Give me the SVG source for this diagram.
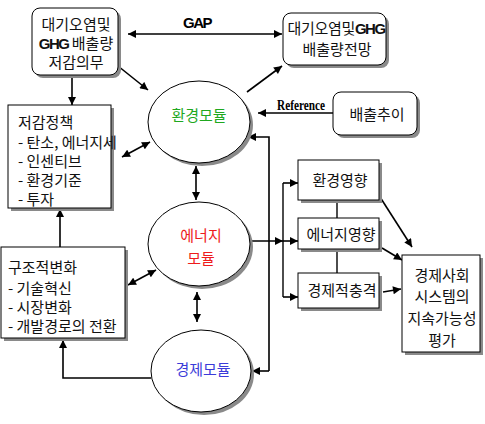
<svg xmlns="http://www.w3.org/2000/svg" width="485" height="424" viewBox="0 0 485 424">
<defs>
<marker id="ah" viewBox="0 0 10 10" refX="10" refY="5" markerWidth="9" markerHeight="8" markerUnits="userSpaceOnUse" orient="auto-start-reverse">
<path d="M0,0 L10,5 L0,10 z" fill="#000"/>
</marker>
</defs>
<style>
.box{fill:#fff;stroke:#000;stroke-width:1}
.sh{fill:#8a8a8a;stroke:none}
.kt{font-family:"Noto Sans CJK KR","Liberation Sans",sans-serif;font-size:15px;fill:#111}
.c{text-anchor:middle}
.ln{fill:none;stroke:#000;stroke-width:1.4}
.ar{fill:none;stroke:#000;stroke-width:1.6;marker-end:url(#ah)}
.da{fill:none;stroke:#000;stroke-width:1.6;marker-end:url(#ah);marker-start:url(#ah)}
.circ{fill:#fff;stroke:#000;stroke-width:1}
.en{font-family:"Liberation Sans",sans-serif;font-weight:bold;letter-spacing:-1.5px}
</style>
<rect width="485" height="424" fill="#fff"/>

<g id="connectors">
<line class="da" x1="128" y1="34" x2="282" y2="34"/>
<text x="197" y="28" class="c" font-family="Liberation Sans, sans-serif" font-weight="bold" font-size="15" letter-spacing="-1.5">GAP</text>
<line class="ar" x1="118" y1="66" x2="148" y2="90"/>
<line class="ar" x1="247" y1="92" x2="282" y2="66"/>
<line class="ar" x1="72" y1="76" x2="72" y2="105"/>
<line class="ar" x1="60" y1="247" x2="60" y2="209"/>
<line class="da" x1="122" y1="157" x2="150" y2="142"/>
<line class="da" x1="128" y1="285" x2="156" y2="270"/>
<polyline class="ar" points="151,378 63,378 63,340"/>
<line class="da" x1="196" y1="166" x2="196" y2="200"/>
<line class="da" x1="197" y1="292" x2="197" y2="322"/>
<line class="ar" x1="334" y1="113" x2="258" y2="113"/>
<text x="277" y="110" font-family="Liberation Serif, serif" font-weight="bold" font-size="15" textLength="48" lengthAdjust="spacingAndGlyphs">Reference</text>
<polyline class="ar" points="269,371 269,137 248,137"/>
<line class="ar" x1="269" y1="371" x2="252" y2="371"/>
<line class="ar" x1="250" y1="241" x2="283" y2="241"/>
<line class="ln" x1="283" y1="183" x2="283" y2="297"/>
<line class="ar" x1="283" y1="183" x2="298" y2="183"/>
<line class="ar" x1="283" y1="241" x2="298" y2="241"/>
<line class="ar" x1="283" y1="297" x2="298" y2="297"/>
<line class="ln" x1="337" y1="200" x2="337" y2="218"/>
<line class="ln" x1="337" y1="249" x2="337" y2="273"/>
<line class="ar" x1="380" y1="197" x2="412" y2="247"/>
<line class="ar" x1="382" y1="248" x2="402" y2="260"/>
<line class="ar" x1="383" y1="292" x2="401" y2="289"/>
</g>

<g id="n-obligation">
<rect class="sh" x="35" y="11" width="86" height="67" rx="8"/>
<rect class="box" x="32" y="8" width="86" height="67" rx="8"/>
<text class="kt c" x="76" y="30" font-size="14.5">대기오염및</text>
<text class="kt c" x="76" y="49" font-size="14.5"><tspan class="en">GHG</tspan> 배출량</text>
<text class="kt c" x="76" y="68" font-size="14.5">저감의무</text>
</g>

<g id="n-forecast">
<rect class="sh" x="286" y="16" width="103" height="52" rx="8"/>
<rect class="box" x="283" y="13" width="103" height="52" rx="8"/>
<text class="kt c" x="336" y="34" letter-spacing="-0.3">대기오염및<tspan class="en">GHG</tspan></text>
<text class="kt c" x="337" y="55">배출량전망</text>
</g>

<g id="n-trend">
<rect class="sh" x="336" y="95" width="84" height="43" rx="8"/>
<rect class="box" x="333" y="92" width="84" height="43" rx="8"/>
<text class="kt c" x="377" y="120" font-size="16.5">배출추이</text>
</g>

<g id="n-policy">
<rect class="sh" x="11" y="108" width="103" height="103"/>
<rect class="box" x="8" y="105" width="103" height="103"/>
<text class="kt" x="18" y="128" font-size="17.5">저감정책</text>
<text class="kt" x="18" y="148" font-size="14.5">- 탄소, 에너지세</text>
<text class="kt" x="18" y="167">- 인센티브</text>
<text class="kt" x="18" y="186">- 환경기준</text>
<text class="kt" x="18" y="205">- 투자</text>
</g>

<g id="n-structure">
<rect class="sh" x="4" y="250" width="124" height="91"/>
<rect class="box" x="1" y="247" width="124" height="91"/>
<text class="kt" x="8" y="273" font-size="17.5">구조적변화</text>
<text class="kt" x="8" y="294">- 기술혁신</text>
<text class="kt" x="8" y="313">- 시장변화</text>
<text class="kt" x="8" y="332" font-size="14.5">- 개발경로의 전환</text>
</g>

<g id="n-env">
<ellipse class="sh" cx="202" cy="125" rx="51" ry="41"/>
<ellipse class="circ" cx="199" cy="122" rx="51" ry="41"/>
<text class="kt c" x="199" y="121" font-size="19" style="fill:#1fa81f">환경모듈</text>
</g>

<g id="n-energy">
<ellipse class="sh" cx="202" cy="247" rx="51" ry="42"/>
<ellipse class="circ" cx="199" cy="244" rx="51" ry="42"/>
<text class="kt c" x="201" y="241" font-size="20" style="fill:#ee1c1c">에너지</text>
<text class="kt c" x="201" y="264" font-size="20" style="fill:#ee1c1c">모듈</text>
</g>

<g id="n-econ">
<ellipse class="sh" cx="204" cy="374" rx="50" ry="41"/>
<ellipse class="circ" cx="201" cy="371" rx="50" ry="41"/>
<text class="kt c" x="203" y="375" font-size="18.5" style="fill:#3b3bd9">경제모듈</text>
</g>

<g id="n-envimpact">
<rect class="sh" x="301" y="163" width="81" height="40"/>
<rect class="box" x="298" y="160" width="81" height="40"/>
<text class="kt c" x="340" y="186" font-size="14.5">환경영향</text>
</g>

<g id="n-enimpact">
<rect class="sh" x="301" y="221" width="81" height="31"/>
<rect class="box" x="298" y="218" width="81" height="31"/>
<text class="kt c" x="341" y="240" font-size="14.5">에너지영향</text>
</g>

<g id="n-ecimpact">
<rect class="sh" x="301" y="276" width="81" height="35"/>
<rect class="box" x="298" y="273" width="81" height="35"/>
<text class="kt c" x="342" y="296" font-size="15">경제적충격</text>
</g>

<g id="n-eval">
<rect class="sh" x="405" y="258" width="78" height="97"/>
<rect class="box" x="402" y="255" width="78" height="97"/>
<text class="kt c" x="442" y="281" font-size="16">경제사회</text>
<text class="kt c" x="442" y="302" font-size="16">시스템의</text>
<text class="kt c" x="442" y="324" font-size="16">지속가능성</text>
<text class="kt c" x="442" y="346" font-size="16">평가</text>
</g>
</svg>
